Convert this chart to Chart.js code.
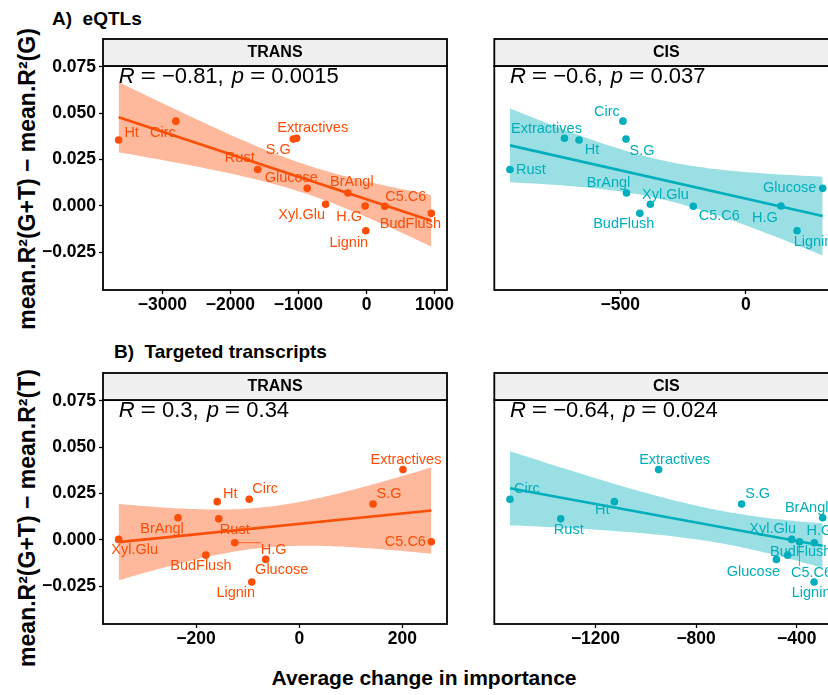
<!DOCTYPE html>
<html>
<head>
<meta charset="utf-8">
<script src="https://cdn.jsdelivr.net/npm/chart.js@4.4.0/dist/chart.umd.min.js"></script>
<style>
  body { margin: 0; width: 828px; height: 695px; overflow: hidden; background: #fff; position: relative;
         font-family: "Liberation Sans", Arial, sans-serif; }
  canvas { position: absolute; }
  .t { position: absolute; font-weight: bold; white-space: nowrap; color: #000; line-height: 1; }
  .rot { transform: translate(-50%, -50%) rotate(-90deg); }
</style>
</head>
<body>
<div class="t" style="left:52px;top:9px;font-size:19px">A)&nbsp; eQTLs</div>
<div class="t" style="left:114px;top:342px;font-size:19px">B)&nbsp; Targeted transcripts</div>
<div class="t rot" style="left:27px;top:179px;font-size:23px">mean.R²(G+T) − mean.R²(G)</div>
<div class="t rot" style="left:27px;top:518px;font-size:23px">mean.R²(G+T) − mean.R²(T)</div>
<div class="t" style="left:424px;top:677px;font-size:21px;transform:translate(-50%,-50%)">Average change in importance</div>

<canvas id="aTrans" width="470" height="300" style="left:0px;top:30px"></canvas>
<canvas id="aCis" width="400" height="300" style="left:470px;top:30px"></canvas>
<canvas id="bTrans" width="470" height="300" style="left:0px;top:362px"></canvas>
<canvas id="bCis" width="400" height="300" style="left:470px;top:362px"></canvas>

<script>
// traits, same order in every array below
const traits = ['Ht', 'Circ', 'Extractives', 'S.G', 'Rust', 'Glucose', 'Xyl.Glu', 'BrAngl', 'H.G', 'Lignin', 'C5.C6', 'BudFlush'];

// y: mean.R2 difference
const yEqtl     = [0.0355, 0.0457, 0.0365, 0.0360, 0.0196, 0.0094, 0.0008, 0.0069, -0.0001, -0.0135, -0.0003, -0.0041];
const yTargeted = [0.0206, 0.0219, 0.0379, 0.0193, 0.0113, -0.0106, 0.0002, 0.0119, -0.0016, -0.0228, -0.0011, -0.0083];

// x: average change in importance
const xEqtlTrans = [-3642, -2801, -1026, -1076, -1598, -871, -601, -274, -20, -10, 268, 953];
const xEqtlCis   = [-664, -489, -722, -477, -939, 306, -380, -475, 140, 204, -209, -422];
const xTargTrans = [-159, -97, 201, 143, -156, -65, -350, -235, -125, -92, 256, -181];
const xTargCis   = [-1125, -1540, -949, -619, -1338, -481, -420, -297, -330, -331, -389, -436];

// axis ticks
const yTicks = [-0.025, 0, 0.025, 0.05, 0.075];
const yLimits = [-0.04, 0.07];
const xTicksEqtlTrans = [-3000, -2000, -1000, 0, 1000];
const xTicksEqtlCis = [-500, 0];
const xTicksTargTrans = [-200, 0, 200];
const xTicksTargCis = [-1200, -800, -400];

// correlation labels
const corR = ['−0.81', '−0.6', '0.3', '−0.64'];
const corP = ['0.0015', '0.037', '0.34', '0.024'];

const ORANGE = '#FC4E07', TEAL = '#00AFBB';
const T_CRIT = 2.228; // t(0.975, df = 10)
const FONT = '"Liberation Sans", Arial, sans-serif';

// label offsets (px) from each point, ggrepel-like placement
const offsA1 = [[13,-7],[-13,12],[16,-10],[-15,11],[-18,-11],[-16,-10],[-24,11],[4,-11],[-16,11],[-17,12],[21,-9],[-21,11]];
const offsA2 = [[13,10],[-16,-9],[-18,-9],[16,12],[21,1],[-33,0],[15,-9],[-18,-10],[-16,12],[16,11],[26,10],[-16,11]];
const offsB1 = [[13,-8],[16,-10],[3,-10],[16,-10],[16,11],[16,11],[16,11],[-16,11],[39,7],[-16,11],[-26,0],[-5,11]];
const offsB2 = [[-12,8],[17,-10],[16,-10],[16,-10],[8,11],[-23,13],[-19,-10],[-16,-10],[5,-12],[-3,11],[12,31],[13,-3]];

const panels = [
  { id: 'aTrans', xs: xEqtlTrans, ys: yEqtl, xTicks: xTicksEqtlTrans, color: ORANGE, strip: 'TRANS',
    left: 0, top: 30, w: 470, h: 300, area: [103, 66, 447, 290], showY: true, k: 0, offs: offsA1, seg: [] },
  { id: 'aCis', xs: xEqtlCis, ys: yEqtl, xTicks: xTicksEqtlCis, color: TEAL, strip: 'CIS',
    left: 470, top: 30, w: 400, h: 300, area: [494.3, 66, 838.3, 290], showY: false, k: 1, offs: offsA2, seg: [] },
  { id: 'bTrans', xs: xTargTrans, ys: yTargeted, xTicks: xTicksTargTrans, color: ORANGE, strip: 'TRANS',
    left: 0, top: 362, w: 470, h: 300, area: [103, 400, 447, 624], showY: true, k: 2, offs: offsB1, seg: ['H.G'] },
  { id: 'bCis', xs: xTargCis, ys: yTargeted, xTicks: xTicksTargCis, color: TEAL, strip: 'CIS',
    left: 470, top: 362, w: 400, h: 300, area: [494.3, 400, 838.3, 624], showY: false, k: 3, offs: offsB2, seg: ['C5.C6'] }
];

function lmFit(xs, ys) {
  const n = xs.length;
  const mx = xs.reduce((a, b) => a + b, 0) / n;
  const my = ys.reduce((a, b) => a + b, 0) / n;
  let sxx = 0, sxy = 0;
  xs.forEach((x, i) => { sxx += (x - mx) ** 2; sxy += (x - mx) * (ys[i] - my); });
  const b = sxy / sxx, a = my - b * mx;
  let sse = 0;
  xs.forEach((x, i) => { sse += (ys[i] - a - b * x) ** 2; });
  const s = Math.sqrt(sse / (n - 2));
  return { a, b, s, n, mx, sxx };
}

function hexA(hex, al) {
  const v = parseInt(hex.slice(1), 16);
  return `rgba(${v >> 16},${(v >> 8) & 255},${v & 255},${al})`;
}

const minus = s => String(s).replace('-', '−');

const deco = {
  id: 'deco',
  afterDatasetsDraw(chart, args, o) {
    const ctx = chart.ctx, xs = chart.scales.x, ys = chart.scales.y;
    const p = o.panel;
    ctx.save();
    ctx.font = `14.5px ${FONT}`;
    ctx.fillStyle = p.color;
    ctx.strokeStyle = p.color;
    ctx.textAlign = 'center';
    ctx.textBaseline = 'middle';
    traits.forEach((name, i) => {
      const px = xs.getPixelForValue(p.xs[i]), py = ys.getPixelForValue(p.ys[i]);
      const lx = px + p.offs[i][0], ly = py + p.offs[i][1];
      if (p.seg.includes(name)) {
        const w = ctx.measureText(name).width;
        const cx = Math.min(Math.max(px, lx - w / 2), lx + w / 2);
        const cy = Math.min(Math.max(py, ly - 7), ly + 7);
        ctx.lineWidth = 0.8;
        ctx.beginPath(); ctx.moveTo(px, py); ctx.lineTo(cx, cy); ctx.stroke();
      }
      ctx.fillText(name, lx, ly);
    });
    ctx.restore();
  },
  afterDraw(chart, args, o) {
    const ctx = chart.ctx, a = chart.chartArea, p = o.panel;
    ctx.save();
    // panel border
    ctx.strokeStyle = '#000';
    ctx.lineWidth = 1.8;
    ctx.strokeRect(a.left, a.top, a.right - a.left, a.bottom - a.top);
    // strip
    ctx.fillStyle = '#F0F0F0';
    ctx.fillRect(a.left, a.top - 27, a.right - a.left, 27);
    ctx.strokeRect(a.left, a.top - 27, a.right - a.left, 27);
    ctx.fillStyle = '#000';
    ctx.font = `bold 16px ${FONT}`;
    ctx.textAlign = 'center';
    ctx.textBaseline = 'middle';
    ctx.fillText(p.strip, (a.left + a.right) / 2, a.top - 13);
    // correlation text, plotmath-like spacing
    let x = chart.scales.x.getPixelForValue(Math.min(...p.xs));
    const y = a.top + 17;
    ctx.textAlign = 'left';
    ctx.textBaseline = 'alphabetic';
    const parts = [['R', true, 6], ['=', false, 6], [corR[p.k] + ',', false, 8], ['p', true, 6], ['=', false, 6], [corP[p.k], false, 0]];
    parts.forEach(([txt, it, gap]) => {
      ctx.font = `${it ? 'italic ' : ''}22px ${FONT}`;
      if (txt === '=') {
        ctx.save(); ctx.translate(x, 0); ctx.scale(1.2, 1); ctx.fillText(txt, 0, y); ctx.restore();
        x += ctx.measureText(txt).width * 1.2 + gap;
      } else {
        ctx.fillText(txt, x, y);
        x += ctx.measureText(txt).width + gap;
      }
    });
    ctx.restore();
  }
};

panels.forEach(p => {
  const fit = lmFit(p.xs, p.ys);
  const xmin = Math.min(...p.xs), xmax = Math.max(...p.xs);
  const span = xmax - xmin;
  const ySpan = yLimits[1] - yLimits[0];
  const upper = [], lower = [];
  for (let j = 0; j < 80; j++) {
    const x = xmin + span * j / 79;
    const yh = fit.a + fit.b * x;
    const se = fit.s * Math.sqrt(1 / fit.n + (x - fit.mx) ** 2 / fit.sxx);
    upper.push({ x, y: yh + T_CRIT * se });
    lower.push({ x, y: yh - T_CRIT * se });
  }
  const line = [{ x: xmin, y: fit.a + fit.b * xmin }, { x: xmax, y: fit.a + fit.b * xmax }];
  const points = p.xs.map((x, i) => ({ x, y: p.ys[i] }));

  new Chart(document.getElementById(p.id), {
    type: 'line',
    data: {
      datasets: [
        { data: points, showLine: false, pointRadius: 3.8, pointBackgroundColor: p.color,
          pointBorderWidth: 0, order: 0 },
        { data: line, borderColor: p.color, borderWidth: 2.6, pointRadius: 0, fill: false, order: 1 },
        { data: upper, borderWidth: 0, pointRadius: 0, fill: '+1',
          backgroundColor: hexA(p.color, 0.4), order: 2 },
        { data: lower, borderWidth: 0, pointRadius: 0, fill: false, order: 3 }
      ]
    },
    options: {
      responsive: false,
      animation: false,
      events: [],
      layout: { padding: { left: 0, top: p.area[1] - p.top, right: p.left + p.w - p.area[2], bottom: 0 } },
      plugins: { legend: { display: false }, tooltip: { enabled: false }, deco: { panel: p } },
      scales: {
        x: {
          type: 'linear',
          min: xmin - span * 0.05,
          max: xmax + span * 0.05,
          afterBuildTicks: s => { s.ticks = p.xTicks.map(v => ({ value: v })); },
          afterFit: s => { s.height = p.top + p.h - p.area[3]; },
          grid: { drawOnChartArea: false, drawTicks: true, tickLength: 4, tickColor: '#000', tickWidth: 1.3 },
          border: { display: false },
          ticks: { autoSkip: false, maxRotation: 0, padding: 1, color: '#000',
                   font: { family: FONT, size: 17.5, weight: 'bold' }, callback: v => minus(v) }
        },
        y: {
          min: yLimits[0] - ySpan * 0.05,
          max: yLimits[1] + ySpan * 0.05,
          afterBuildTicks: s => { s.ticks = yTicks.map(v => ({ value: v })); },
          afterFit: s => { s.width = p.area[0] - p.left; },
          grid: { display: p.showY, drawOnChartArea: false, drawTicks: true, tickLength: 4, tickColor: '#000', tickWidth: 1.3 },
          border: { display: false },
          ticks: { display: p.showY, padding: 3, color: '#000',
                   font: { family: FONT, size: 17.5, weight: 'bold' }, callback: v => minus(v.toFixed(3)) }
        }
      }
    },
    plugins: [deco]
  });
});
</script>
</body>
</html>
